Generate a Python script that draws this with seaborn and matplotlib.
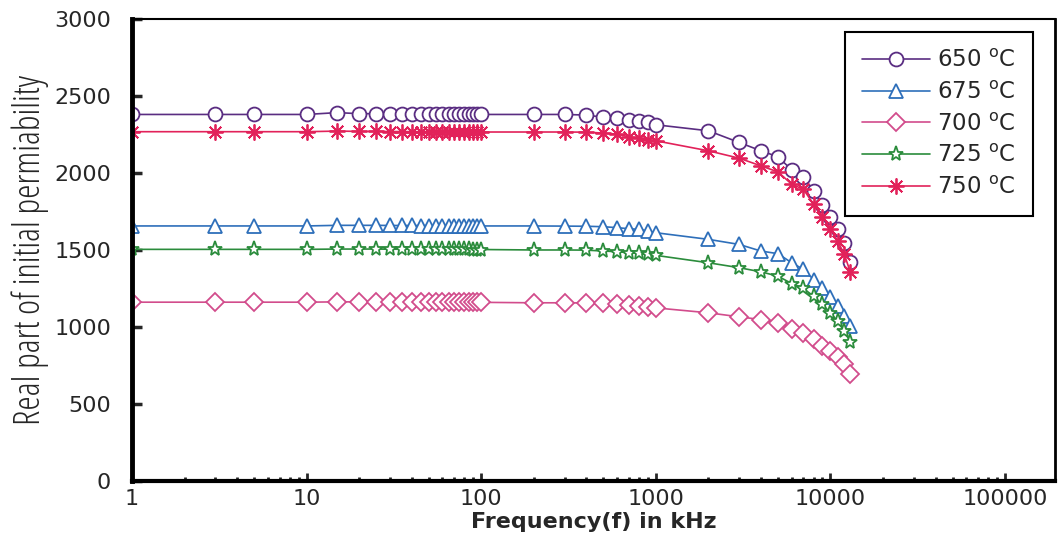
import matplotlib
matplotlib.use("Agg")
import matplotlib.pyplot as plt
import matplotlib.ticker as mticker
import seaborn as sns

# Measurement frequencies (kHz)
freq_khz = [1, 3, 5, 10, 15,
            20, 25, 30, 35, 40, 45, 50, 55, 60, 65, 70, 75, 80, 85, 90, 95, 100,
            200, 300, 400, 500, 600, 700, 800, 900, 1000,
            2000, 3000, 4000, 5000, 6000, 7000, 8000, 9000, 10000, 11000, 12000, 13000]

# Real part of initial permeability for each sintering temperature
mu_650 = [2380, 2380, 2380, 2380, 2392,
          2385, 2385, 2384, 2384, 2383, 2383, 2382, 2382, 2382, 2381, 2381, 2381, 2380, 2380, 2380, 2380, 2380,
          2380, 2380, 2376, 2362, 2355, 2346, 2340, 2328, 2313,
          2274, 2198, 2144, 2105, 2020, 1977, 1884, 1792, 1717, 1634, 1543, 1424]
mu_675 = [1656, 1656, 1656, 1656, 1660,
          1660, 1660, 1659, 1659, 1659, 1658, 1658, 1658, 1658, 1657, 1657, 1657, 1657, 1657, 1656, 1656, 1656,
          1656, 1655, 1654, 1651, 1645, 1638, 1634, 1623, 1612,
          1569, 1536, 1493, 1476, 1417, 1374, 1308, 1254, 1196, 1135, 1074, 1004]
mu_700 = [1161, 1161, 1161, 1161, 1163,
          1163, 1163, 1162, 1162, 1162, 1162, 1162, 1161, 1161, 1161, 1161, 1161, 1161, 1161, 1160, 1160, 1160,
          1157, 1157, 1156, 1153, 1146, 1141, 1135, 1131, 1124,
          1092, 1066, 1048, 1027, 990, 961, 922, 879, 842, 805, 762, 697]
mu_725 = [1504, 1504, 1504, 1504, 1506,
          1506, 1506, 1505, 1505, 1505, 1505, 1505, 1504, 1504, 1504, 1504, 1504, 1504, 1504, 1503, 1503, 1503,
          1500, 1500, 1499, 1493, 1489, 1482, 1478, 1471, 1465,
          1417, 1385, 1358, 1330, 1282, 1250, 1200, 1146, 1092, 1037, 972, 903]
mu_750 = [2268, 2268, 2268, 2268, 2272,
          2270, 2270, 2269, 2269, 2268, 2268, 2268, 2268, 2267, 2267, 2267, 2267, 2267, 2266, 2266, 2266, 2266,
          2266, 2266, 2265, 2259, 2252, 2235, 2226, 2215, 2209,
          2144, 2096, 2046, 2007, 1927, 1894, 1797, 1717, 1638, 1558, 1471, 1356]

series_labels = ["650 $^{\\mathrm{o}}$C", "675 $^{\\mathrm{o}}$C", "700 $^{\\mathrm{o}}$C",
                 "725 $^{\\mathrm{o}}$C", "750 $^{\\mathrm{o}}$C"]
series_values = [mu_650, mu_675, mu_700, mu_725, mu_750]

x_tick_values = [1, 10, 100, 1000, 10000, 100000]
x_tick_labels = ["1", "10", "100", "1000", "10000", "100000"]
y_tick_values = [0, 500, 1000, 1500, 2000, 2500, 3000]
y_tick_labels = ["0", "500", "1000", "1500", "2000", "2500", "3000"]

colors = ["#5a2d82", "#2e6fba", "#d24c8c", "#2b8c3c", "#e2225a"]
markers = ["o", "^", "D", "*", (8, 2, 0)]
msizes = [10, 10.5, 9, 11, 11.5]

sns.set_style("white")
plt.rcParams["font.family"] = ["DejaVu Sans"]

fig = plt.figure(figsize=(10.59, 5.5), dpi=100)
ax = fig.add_axes([0.1246, 0.1255, 0.8716, 0.840])

for label, vals, c, m, ms in zip(series_labels, series_values, colors, markers, msizes):
    sns.lineplot(x=freq_khz, y=vals, ax=ax, color=c, marker=m, markersize=ms,
                 markerfacecolor="white", markeredgecolor=c, markeredgewidth=1.3,
                 linewidth=1.2, label=label)

ax.set_xscale("log")
ax.set_xlim(1, 1.93e5)
ax.set_ylim(0, 3000)

ax.xaxis.set_major_locator(mticker.FixedLocator(x_tick_values))
ax.xaxis.set_major_formatter(mticker.FixedFormatter(x_tick_labels))
ax.xaxis.set_minor_locator(mticker.LogLocator(base=10, subs=range(2, 10), numticks=20))
ax.xaxis.set_minor_formatter(mticker.NullFormatter())
ax.yaxis.set_major_locator(mticker.FixedLocator(y_tick_values))
ax.yaxis.set_major_formatter(mticker.FixedFormatter(y_tick_labels))

ax.tick_params(axis="x", which="major", direction="in", length=6, width=2,
               labelsize=16, pad=6, bottom=True)
ax.tick_params(axis="x", which="minor", direction="in", length=3, width=2, bottom=True)
ax.tick_params(axis="y", which="major", direction="in", length=7, width=2.5,
               labelsize=16, pad=15, left=True)

for side, lw in {"left": 3.5, "bottom": 3.0, "top": 1.5, "right": 2.0}.items():
    ax.spines[side].set_visible(True)
    ax.spines[side].set_linewidth(lw)
    ax.spines[side].set_color("black")

ax.set_xlabel("Frequency(f) in kHz", fontsize=16, fontweight="bold",
              family=["DejaVu Sans"], labelpad=2)
ax.set_ylabel("Real part of initial permiability", fontsize=26,
              family=["Open Sans", "DejaVu Sans"], fontstretch="condensed",
              labelpad=4)

leg = ax.legend(loc="upper right", bbox_to_anchor=(0.976, 0.972), borderaxespad=0,
                fontsize=16.5, frameon=True, fancybox=False, framealpha=1,
                edgecolor="black", handlelength=3.0, labelspacing=0.38,
                handletextpad=0.3, borderpad=0.75)
leg.get_frame().set_linewidth(1.5)

fig.savefig("out.png", dpi=100)
